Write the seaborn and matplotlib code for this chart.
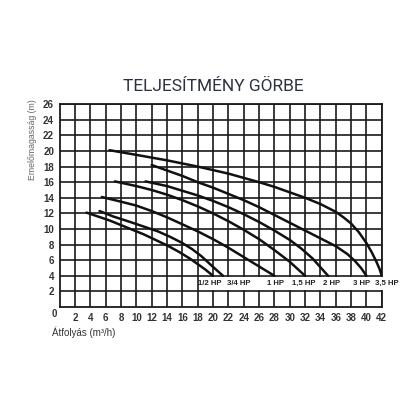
import pandas as pd
import matplotlib.pyplot as plt
import seaborn as sns
from matplotlib.patches import Rectangle

sns.set_style("white")
plt.rcParams['font.family'] = ['Liberation Sans', 'DejaVu Sans']

# Curvas: vazão (m3/h) x altura (m)
motores = ["1/2 HP", "3/4 HP", "1 HP", "1,5 HP", "2 HP", "3 HP", "3,5 HP"]

q_05 = [3.5, 5, 6.5, 8, 9.5, 11, 12.5, 14, 15.5, 17, 18, 19, 20]
h_05 = [12.1, 11.6, 11.1, 10.5, 9.9, 9.3, 8.6, 7.9, 7.1, 6.2, 5.5, 4.8, 4.0]

q_075 = [5.2, 7, 9.2, 11, 12.8, 14.4, 16, 17.3, 18.5, 19.6, 20.5, 21.3]
h_075 = [12.3, 11.6, 10.9, 10.3, 9.7, 9.0, 8.2, 7.4, 6.5, 5.5, 4.7, 4.0]

q_1 = [5.5, 8, 10, 12, 14, 16, 18, 20, 22, 24, 26, 28]
h_1 = [14.1, 13.5, 13.0, 12.3, 11.5, 10.6, 9.7, 8.7, 7.6, 6.4, 5.2, 4.0]

q_15 = [7.2, 10, 12, 14, 16, 18, 20, 22, 24, 26, 28, 30, 31, 32]
h_15 = [16.1, 15.5, 15.0, 14.4, 13.7, 12.9, 12.0, 11.0, 9.9, 8.7, 7.3, 5.8, 4.9, 4.0]

q_2 = [11.2, 14, 16, 18, 20, 22, 24, 26, 28, 30, 31.5, 33, 34, 35]
h_2 = [16.1, 15.5, 14.9, 14.3, 13.6, 12.8, 11.9, 10.9, 9.8, 8.6, 7.5, 6.2, 5.1, 4.0]

q_3 = [12, 14, 16, 18, 20, 22, 24, 26, 28, 30, 32, 34, 36, 37.5, 38.5, 39.3, 40]
h_3 = [18.2, 17.5, 16.8, 16.0, 15.3, 14.5, 13.7, 12.8, 11.8, 10.8, 9.8, 8.8, 7.8, 6.8, 5.9, 5.0, 4.0]

q_35 = [6.5, 10, 14, 18, 22, 26, 28, 30, 32, 34, 36, 37, 38, 39, 40, 40.7, 41.3, 41.7, 42]
h_35 = [20.1, 19.5, 18.8, 18.0, 17.1, 16.0, 15.4, 14.7, 14.0, 13.2, 12.2, 11.5, 10.7, 9.6, 8.2, 7.0, 5.8, 4.9, 4.0]

vazoes = [q_05, q_075, q_1, q_15, q_2, q_3, q_35]
alturas = [h_05, h_075, h_1, h_15, h_2, h_3, h_35]

x_ticks = list(range(2, 43, 2))
y_ticks = list(range(2, 27, 2))

# Monta tabela longa
linhas = []
for nome, qs, hs in zip(motores, vazoes, alturas):
    for q, h in zip(qs, hs):
        linhas.append({"motor": nome, "vazao": q, "altura": h})
df = pd.DataFrame(linhas)

fig = plt.figure(figsize=(4.2, 4.2), dpi=100)
ax = fig.add_axes([0.142, 0.269, 0.767, 0.483])

sns.lineplot(
    data=df, x="vazao", y="altura", hue="motor", units="motor",
    palette=["#111111"] * len(motores), estimator=None, sort=False,
    legend=False, linewidth=1.8, solid_joinstyle="round",
    ax=ax, zorder=3
)

ax.set_xlim(0, 42)
ax.set_ylim(0, 26)
ax.set_xticks(x_ticks)
ax.set_yticks(y_ticks)
ax.set_axisbelow(True)
ax.grid(True, color="#1a1a1a", linewidth=1.2)
for s in ax.spines.values():
    s.set_color("#1a1a1a")
    s.set_linewidth(1.3)
ax.tick_params(length=0, labelsize=7, labelcolor="#333333", pad=4)
for lbl in ax.get_xticklabels() + ax.get_yticklabels():
    lbl.set_fontweight("bold")
ax.set_xlabel("")
ax.set_ylabel("")

# Faixa branca com os rótulos dos motores (cobre também a borda direita)
ax.add_patch(Rectangle((18.3, 2.2), 24.2, 1.65, facecolor="white",
                       edgecolor="none", zorder=2.6, clip_on=False))
ajuste = [-0.4, 2.0, 0.1, -0.2, 0.5, -0.6, 0.6]
for nome, qs, dx in zip(motores, vazoes, ajuste):
    ax.text(qs[-1] + dx, 3.0, nome, ha="center", va="center", fontsize=5.6,
            fontweight="bold", color="#222222", zorder=4, clip_on=False)

ax.text(-0.7, -0.95, "0", ha="center", va="center", fontsize=7,
        fontweight="bold", color="#333333")

fig.text(0.507, 0.793, "TELJESÍTMÉNY GÖRBE", ha="center", va="center",
         fontsize=12.5, family="Roboto", color="#2e3140")
fig.text(0.078, 0.668, "Emelőmagasság (m)", rotation=90, ha="center",
         va="center", fontsize=6.3, color="#666666")
fig.text(0.124, 0.21, "Átfolyás (m³/h)", ha="left", va="center",
         fontsize=7, color="#333333")

fig.savefig("out.png", dpi=100, facecolor="white")
